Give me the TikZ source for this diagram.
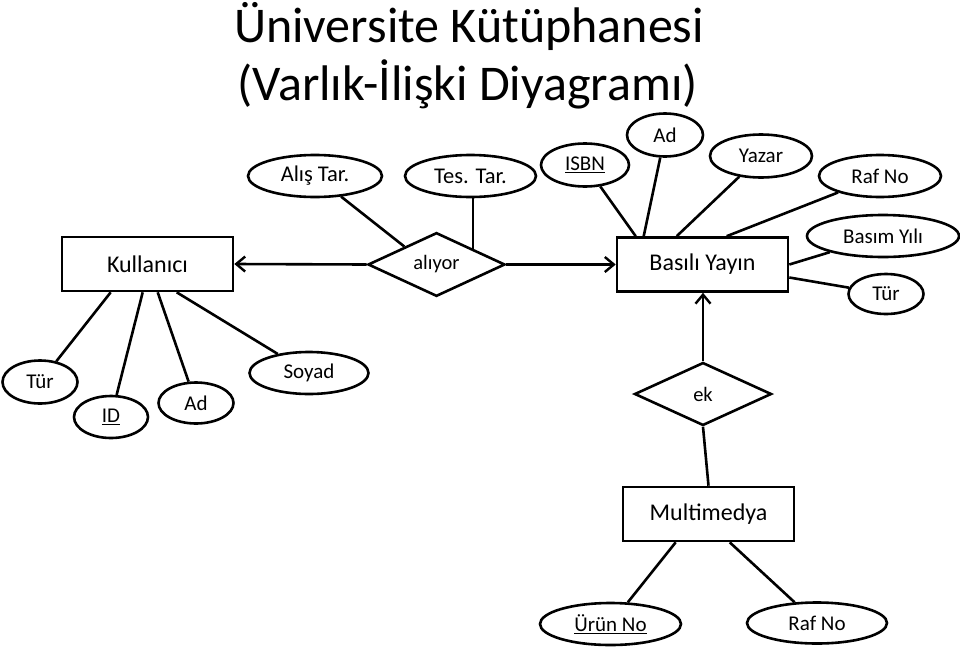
\documentclass[tikz,border=0pt]{standalone}
\usepackage{fontspec}
\setmainfont{Carlito}
\usetikzlibrary{shapes.geometric,arrows.meta,calc}
\begin{document}
\begin{tikzpicture}[x=1pt,y=-1pt,
  every path/.style={line width=2.6pt},
  ent/.style={draw,rectangle,minimum width=171pt,minimum height=54pt,inner sep=0pt,font=\fontsize{24}{28}\selectfont},
  rel/.style={draw,diamond,minimum width=137pt,minimum height=63pt,inner sep=0pt,font=\fontsize{20.5}{24}\selectfont},
  attr/.style={draw,ellipse,inner sep=0pt,font=\fontsize{21}{25}\selectfont},
  conn/.style={line width=2.6pt},
  arr/.style={line width=2.6pt,-{Straight Barb[length=9pt,width=15pt,line width=2.4pt]}},
  ttl/.style={anchor=base,font=\fontsize{50}{60}\selectfont,inner sep=0pt}
]
\useasboundingbox (0,0) rectangle (960,648);
\fill[white] (0,0) rectangle (960,648);

% title
\node[ttl] (t1) at (469,42) {Üniversite Kütüphanesi};
\node[ttl] (t2) at (467.5,100) {(Varlık-İlişki Diyagramı)};

% entities and relations
\node[ent] (ku) at (147.5,264) {Kullanıcı};
\node[ent] (by) at (702.5,264.5) {Basılı Yayın};
\node[ent] (mm) at (708.5,514) {Multimedya};
\node[rel] (al) at (436.5,264.5) {alıyor};
\node[rel] (ek) at (703,394) {ek};

% attributes of Kullanıcı
\node[attr,minimum width=75pt,minimum height=43pt] (ktur) at (40,382) {Tür};
\node[attr,minimum width=74pt,minimum height=42pt] (kid) at (111,417) {\underline{ID}};
\node[attr,minimum width=75pt,minimum height=41pt] (kad) at (196,403) {Ad};
\node[attr,minimum width=119pt,minimum height=42pt] (ksoy) at (309,373) {Soyad};

% attributes of alıyor
\node[attr,minimum width=134pt,minimum height=42pt,font=\fontsize{22.5}{26}\selectfont] (alis) at (315,176) {Alış Tar.};
\node[attr,minimum width=131pt,minimum height=42pt,font=\fontsize{22.5}{26}\selectfont] (tes) at (470.5,176) {Tes. Tar.};

% attributes of Basılı Yayın
\node[attr,minimum width=88pt,minimum height=43pt] (isbn) at (585,165) {\underline{ISBN}};
\node[attr,minimum width=76pt,minimum height=43pt] (bad) at (665,135) {Ad};
\node[attr,minimum width=102pt,minimum height=43pt] (yaz) at (761,156) {Yazar};
\node[attr,minimum width=122pt,minimum height=42pt] (raf) at (880,176) {Raf No};
\node[attr,minimum width=152pt,minimum height=42pt] (basim) at (883,236) {Basım Yılı};
\node[attr,minimum width=75pt,minimum height=40pt] (btur) at (886,294) {Tür};

% attributes of Multimedya
\node[attr,minimum width=141pt,minimum height=42pt] (urun) at (610.5,624) {\underline{Ürün No}};
\node[attr,minimum width=140pt,minimum height=41pt] (mraf) at (817,623) {Raf No};

% arrows
\draw[arr] (al.west) -- (ku.east);
\draw[arr] (al.east) -- (by.west);
\draw[arr] (ek.north) -- (ek.north |- by.south);
\draw[conn] (ek.south) -- (mm.north);

% Kullanıcı connectors
\draw[conn] ([xshift=50pt]ku.south west) -- (ktur);
\draw[conn] ([xshift=82pt]ku.south west) -- (kid);
\draw[conn] ([xshift=97pt]ku.south west) -- (kad);
\draw[conn] ([xshift=116pt]ku.south west) -- (ksoy);

% alıyor connectors
\coordinate (alp) at ($(al.west)!0.54!(al.north)$);
\coordinate (tep) at ($(al.north)!0.52!(al.east)$);
\draw[conn] (alis) -- (alp);
\draw[conn] (tep) -- (tep |- tes.south);

% Basılı Yayın connectors
\draw[conn] ([xshift=20pt]by.north west) -- (isbn);
\draw[conn] ([xshift=28pt]by.north west) -- (bad);
\draw[conn] ([xshift=61pt]by.north west) -- (yaz);
\draw[conn] ([xshift=111pt]by.north west) -- (raf);
\draw[conn] (by.east) -- (basim);
\draw[conn] ([yshift=-13pt]by.east) -- (btur);

% Multimedya connectors
\draw[conn] ([xshift=54pt]mm.south west) -- (urun);
\draw[conn] ([xshift=108pt]mm.south west) -- (mraf);
\end{tikzpicture}
\end{document}
